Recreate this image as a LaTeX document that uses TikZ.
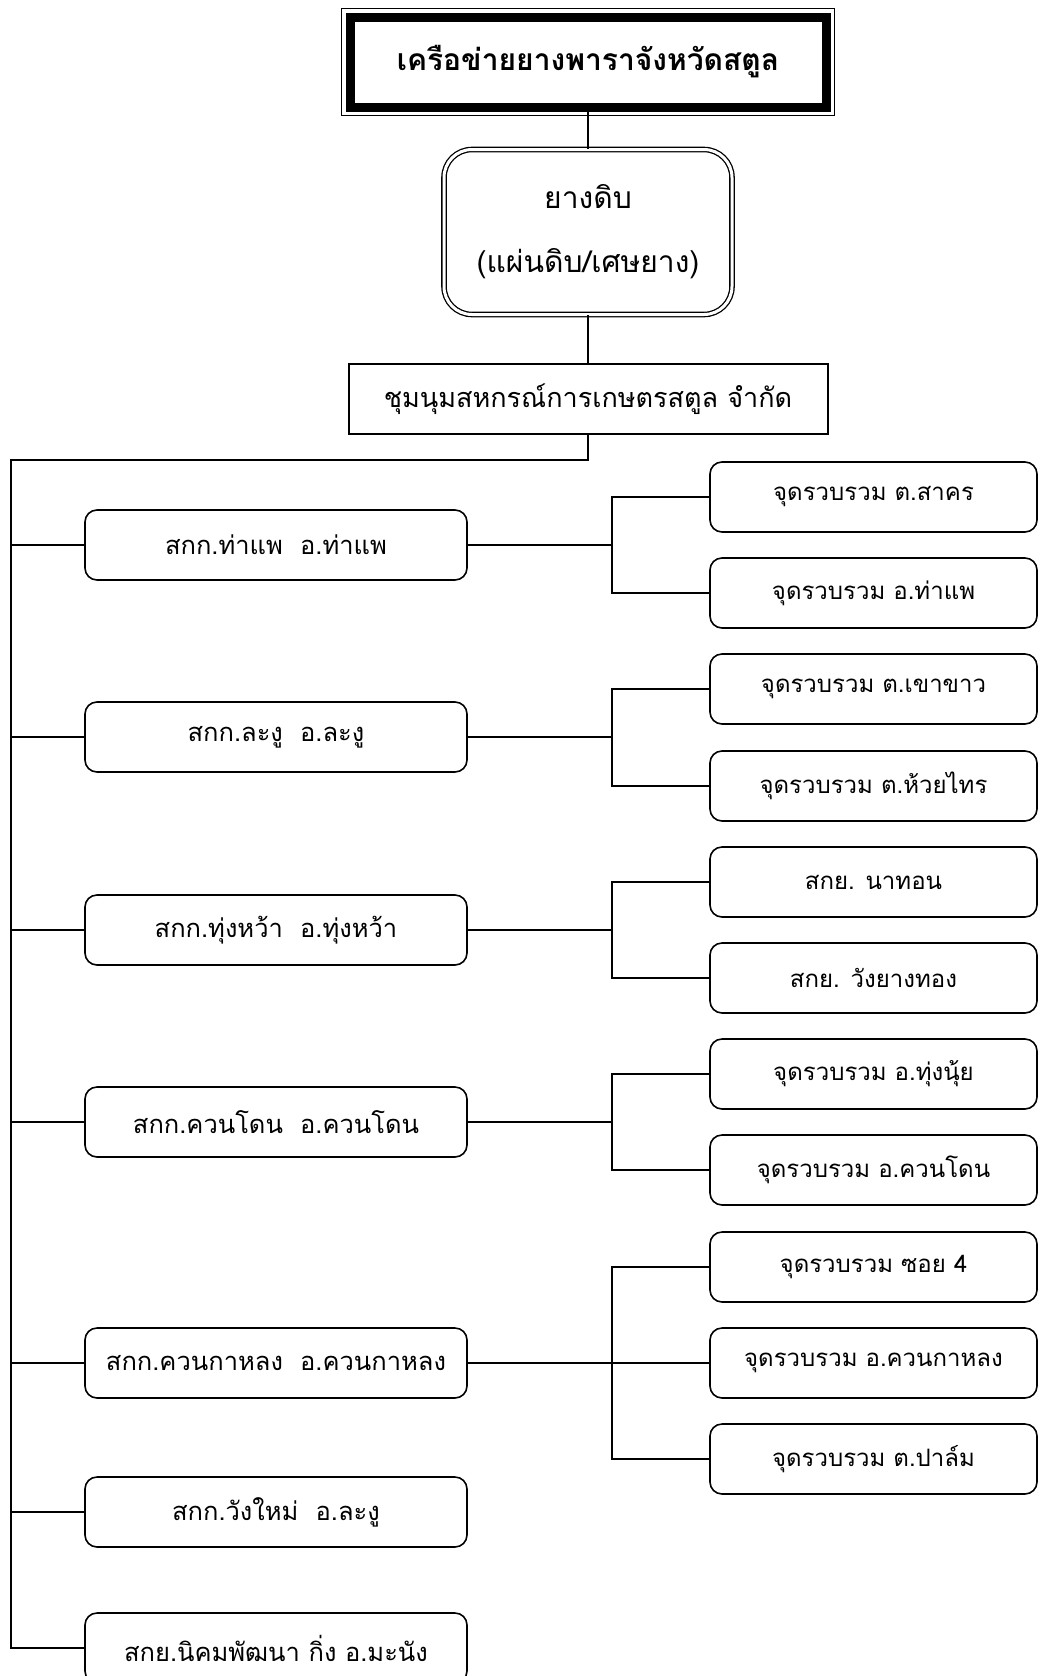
\documentclass[tikz,border=0pt]{standalone}
\usepackage{fontspec}
\setmainfont{Loma}[Script=Thai]
\newfontfamily\thaifont[Script=Thai]{Loma}
\usetikzlibrary{calc}
\tikzset{
  lbox/.style={draw, line width=1.6pt, rounded corners=12pt, minimum width=382pt, minimum height=70pt, inner sep=0pt, font=\thaifont\fontsize{25.5}{30}\selectfont},
  rbox/.style={lbox, minimum width=327pt, font=\thaifont\fontsize{24}{30}\selectfont},
  link/.style={line width=1.6pt},
}
\newcommand{\gap}{\hspace{8pt}}
\begin{document}
\begin{tikzpicture}[x=1pt,y=-1pt]
\useasboundingbox (0,0) rectangle (1040,1676);
\clip (0,0) rectangle (1040,1676);
% title
\node[draw, line width=9pt, minimum width=476pt, minimum height=90pt, inner sep=0pt, font=\thaifont\bfseries\fontsize{30}{36}\selectfont] (t) at (588,62) {เครือข่ายยางพาราจังหวัดสตูล};
\draw[line width=1.8pt] ($(t.south west)+(-4,4)$) rectangle ($(t.north east)+(4,-4)$);
% raw rubber
\node[draw, line width=1.3pt, double, double distance=3pt, rounded corners=28pt, minimum width=288pt, minimum height=165pt, inner sep=0pt, align=center, font=\thaifont\fontsize{30}{64}\selectfont] (raw) at (588,232) {ยางดิบ\\(แผ่นดิบ/เศษยาง)};
% federation
\node[draw, line width=2pt, minimum width=479pt, minimum height=70pt, inner sep=0pt, font=\thaifont\fontsize{27}{32}\selectfont] (a) at (588,399) {ชุมนุมสหกรณ์การเกษตรสตูล จำกัด};
% left boxes
\node[lbox] (L1) at (276,545) {สกก.ท่าแพ\ \ อ.ท่าแพ};
\node[lbox] (L2) at (276,737) {สกก.ละงู\ \ อ.ละงู};
\node[lbox] (L3) at (276,930) {สกก.ทุ่งหว้า\ \ อ.ทุ่งหว้า};
\node[lbox] (L4) at (276,1122) {สกก.ควนโดน\ \ อ.ควนโดน};
\node[lbox] (L5) at (276,1363) {สกก.ควนกาหลง\ \ อ.ควนกาหลง};
\node[lbox] (L6) at (276,1512) {สกก.วังใหม่\ \ อ.ละงู};
\node[lbox] (L7) at (276,1648) {สกย.นิคมพัฒนา กิ่ง อ.มะนัง};
% right boxes
\node[rbox] (R1) at (873.5,497) {จุดรวบรวม\gap ต.สาคร};
\node[rbox] (R2) at (873.5,593) {จุดรวบรวม\gap อ.ท่าแพ};
\node[rbox] (R3) at (873.5,689) {จุดรวบรวม\gap ต.เขาขาว};
\node[rbox] (R4) at (873.5,786) {จุดรวบรวม\gap ต.ห้วยไทร};
\node[rbox] (R5) at (873.5,882) {สกย. นาทอน};
\node[rbox] (R6) at (873.5,978) {สกย. วังยางทอง};
\node[rbox] (R7) at (873.5,1074) {จุดรวบรวม\gap อ.ทุ่งนุ้ย};
\node[rbox] (R8) at (873.5,1170) {จุดรวบรวม\gap อ.ควนโดน};
\node[rbox] (R9) at (873.5,1267) {จุดรวบรวม\gap ซอย 4};
\node[rbox] (R10) at (873.5,1363) {จุดรวบรวม\gap อ.ควนกาหลง};
\node[rbox] (R11) at (873.5,1459) {จุดรวบรวม\gap ต.ปาล์ม};
% connectors
\coordinate (tl) at (11,460);
\coordinate (bx) at (612,0);
\draw[link] (t.south) -- (raw.north);
\draw[link] (raw.south) -- (a.north);
\draw[link] (a.south) |- (tl) |- (L7.west);
\foreach \i in {1,...,6} \draw[link] (L\i.west -| tl) -- (L\i.west);
\foreach \l/\p/\q in {1/1/2, 2/3/4, 3/5/6, 4/7/8, 5/9/11} {
  \draw[link] (L\l.east) -- (L\l.east -| bx);
  \draw[link] (R\p.west) -- (R\p.west -| bx) -- (R\q.west -| bx) -- (R\q.west);
}
\draw[link] (L5.east -| bx) -- (R10.west);
\end{tikzpicture}
\end{document}
